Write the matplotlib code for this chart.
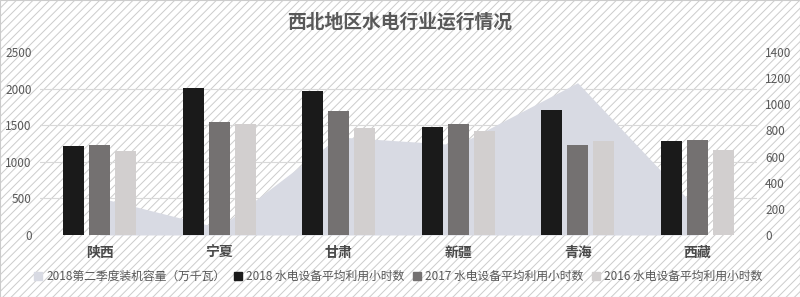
import matplotlib
matplotlib.use("Agg")
import matplotlib.pyplot as plt
from matplotlib.patches import Rectangle
import numpy as np

plt.rcParams['font.family'] = ['Noto Sans CJK SC', 'DejaVu Sans']
plt.rcParams['hatch.linewidth'] = 0.7

categories = ['陕西', '宁夏', '甘肃', '新疆', '青海', '西藏']
capacity_2018q2 = [285, 55, 750, 690, 1165, 200]
hours_2018 = [1220, 2012, 1971, 1479, 1712, 1284]
hours_2017 = [1229, 1544, 1694, 1516, 1229, 1298]
hours_2016 = [1147, 1512, 1466, 1425, 1284, 1161]

series_labels = ['2018第二季度装机容量（万千瓦）',
                 '2018 水电设备平均利用小时数',
                 '2017 水电设备平均利用小时数',
                 '2016 水电设备平均利用小时数']
left_ticks = [0, 500, 1000, 1500, 2000, 2500]
right_ticks = [0, 200, 400, 600, 800, 1000, 1200, 1400]

c_area = '#d8dae3'
c18 = '#1a1a1a'
c17 = '#747171'
c16 = '#d2cfcf'
txt = '#595959'

fig = plt.figure(figsize=(8.0, 2.97), dpi=100, facecolor='white')
bg = Rectangle((0, 0), 1, 1, transform=fig.transFigure, facecolor='white',
               edgecolor='#cccccc', hatch='////', linewidth=0.8, zorder=-10)
fig.patches.append(bg)

ax2 = fig.add_axes([0.05, 0.2088, 0.896, 0.6161])
ax = ax2.twinx()
ax.yaxis.tick_left()
ax.yaxis.set_label_position('left')
ax2.yaxis.tick_right()
ax.set_zorder(ax2.get_zorder() + 1)
ax.patch.set_visible(False)
ax2.patch.set_visible(False)

x = np.arange(len(categories))

# area on right axis
ax2.fill_between(x, capacity_2018q2, 0, color=c_area, linewidth=0, zorder=2)
ax2.set_ylim(0, 1400)
ax2.set_yticks(right_ticks)
ax2.set_yticks(np.linspace(0, 1400, len(left_ticks)), minor=True)
ax2.grid(which='minor', axis='y', color='#d9d9d9', linewidth=0.8, zorder=1)
ax2.grid(which='major', visible=False)
ax2.tick_params(axis='y', which='both', length=0, labelsize=8.5, labelcolor=txt, pad=6)
ax2.set_xlim(-0.5, len(categories) - 0.5)
ax2.set_xticks(x)
ax2.set_xticklabels(categories, fontsize=10, fontweight='bold', color='#4a4a4a')
ax2.tick_params(axis='x', length=0, pad=8)

# bars on left axis
w = 0.176
step = 0.218
ax.bar(x - step, hours_2018, width=w, color=c18, zorder=3)
ax.bar(x, hours_2017, width=w, color=c17, zorder=3)
ax.bar(x + step, hours_2016, width=w, color=c16, zorder=3)
ax.set_ylim(0, 2500)
ax.set_yticks(left_ticks)
ax.tick_params(axis='y', length=0, labelsize=8.5, labelcolor=txt, pad=6)
ax.set_xlim(-0.5, len(categories) - 0.5)

for a in (ax, ax2):
    for s in a.spines.values():
        s.set_visible(False)

fig.text(0.5, 0.925, '西北地区水电行业运行情况', ha='center', va='center',
         fontsize=13.5, fontweight='bold', color=txt)

handles = [Rectangle((0, 0), 1, 1, color=c) for c in (c_area, c18, c17, c16)]
leg = fig.legend(handles, series_labels, loc='center', bbox_to_anchor=(0.498, 0.068),
                 ncol=4, frameon=False, fontsize=8.5, handlelength=0.68, handleheight=0.68,
                 handletextpad=0.34, columnspacing=0.75, labelcolor=txt)

fig.savefig('out.png', dpi=100, facecolor='white')
